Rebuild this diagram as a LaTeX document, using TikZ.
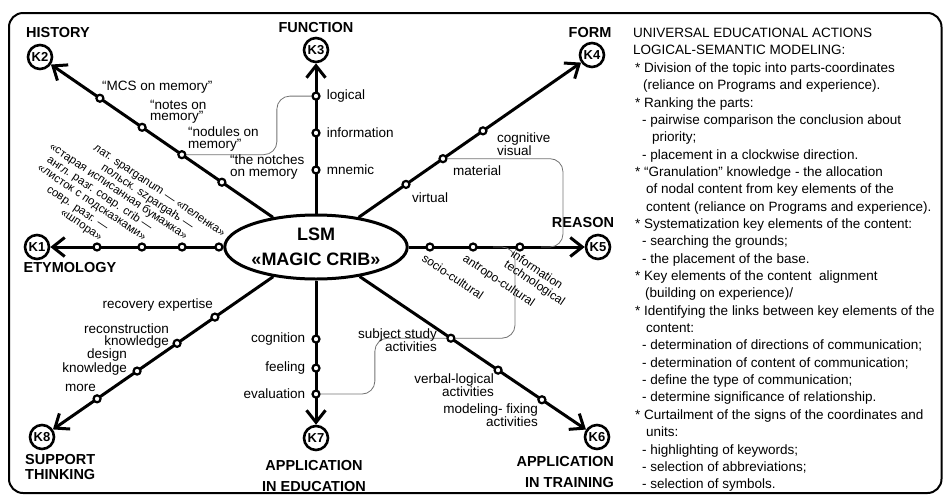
\documentclass[tikz,border=0pt]{standalone}
\usepackage{fontspec}
\setmainfont{Liberation Sans}
\usetikzlibrary{shapes,arrows.meta,positioning,calc}

\begin{document}
\begin{tikzpicture}[x=1pt, y=-1pt, >={Straight Barb[length=12pt,width=19pt]},
    key/.style={circle, draw, line width=2.6pt, minimum size=24pt, inner sep=0pt,
                font=\fontsize{13}{13}\selectfont\bfseries},
    dot/.style={circle, draw, fill=white, line width=2.2pt, minimum size=7pt, inner sep=0pt},
    axis/.style={->, line width=3pt},
    link/.style={draw=black!55, line width=0.8pt, rounded corners=13pt},
    lbl/.style={font=\fontsize{13.5}{11.5}\selectfont, inner sep=1pt},
    rlbl/.style={font=\fontsize{12}{12}\selectfont, inner sep=0pt, rotate=-34},
    ru/.style={font=\fontsize{11.5}{11.5}\selectfont, inner sep=0pt, rotate=-34, align=right},
    title/.style={font=\fontsize{14.5}{21}\selectfont\bfseries, inner sep=0pt}]
\useasboundingbox (0,0) rectangle (943,496);
\draw[line width=2pt, rounded corners=14pt] (9,13) rectangle (941.5,493);

\node [ellipse, draw, line width=3pt, minimum width=168pt, minimum height=64pt, inner sep=0pt,
       align=center, font=\fontsize{18}{25}\selectfont\bfseries] (c) at (316,247) {LSM\\«MAGIC CRIB»};

\node [key] (k1) at (37,247) {K1};
\node [key] (k2) at (40,57) {K2};
\node [key] (k3) at (316,50) {K3};
\node [key] (k4) at (592,55) {K4};
\node [key] (k5) at (598,247) {K5};
\node [key] (k6) at (597,437) {K6};
\node [key] (k7) at (316,438) {K7};
\node [key] (k8) at (42,437) {K8};

\node [title] (t1) at (70,268) {ETYMOLOGY};
\node [title] (t2) at (58,33) {HISTORY};
\node [title] (t3) at (316,28) {FUNCTION};
\node [title] (t4) at (590,33) {FORM};
\node [title] (t5) at (583,223) {REASON};
\node [title, align=right, anchor=north east] (t6) at (614,456) {APPLICATION\\IN TRAINING};
\node [title, align=center, anchor=north] (t7) at (314,460) {APPLICATION\\IN EDUCATION};
\node [title, align=left, anchor=north west, font=\fontsize{14.5}{15.5}\selectfont\bfseries] (t8) at (25,454) {SUPPORT\\THINKING};

\foreach \k in {1,...,8}
  \draw[axis] (c) -- (k\k);

% nodal points
\node [dot] (d11) at ($(c)!0.785!(k1)$) {};
\node [dot] (d12) at ($(c)!0.624!(k1)$) {};
\node [dot] (d13) at ($(c)!0.480!(k1)$) {};
\node [dot] (d14) at ($(c)!0.348!(k1)$) {};
\node [dot] (d21) at ($(c)!0.783!(k2)$) {};
\node [dot] (d22) at ($(c)!0.630!(k2)$) {};
\node [dot] (d23) at ($(c)!0.486!(k2)$) {};
\node [dot] (d24) at ($(c)!0.341!(k2)$) {};
\node [dot] (d31) at ($(c)!0.391!(k3)$) {};
\node [dot] (d32) at ($(c)!0.579!(k3)$) {};
\node [dot] (d33) at ($(c)!0.766!(k3)$) {};
\node [dot] (d41) at ($(c)!0.326!(k4)$) {};
\node [dot] (d42) at ($(c)!0.460!(k4)$) {};
\node [dot] (d43) at ($(c)!0.605!(k4)$) {};
\node [dot] (d51) at ($(c)!0.404!(k5)$) {};
\node [dot] (d52) at ($(c)!0.557!(k5)$) {};
\node [dot] (d53) at ($(c)!0.723!(k5)$) {};
\node [dot] (d61) at ($(c)!0.480!(k6)$) {};
\node [dot] (d62) at ($(c)!0.648!(k6)$) {};
\node [dot] (d63) at ($(c)!0.804!(k6)$) {};
\node [dot] (d71) at ($(c)!0.482!(k7)$) {};
\node [dot] (d72) at ($(c)!0.634!(k7)$) {};
\node [dot] (d73) at ($(c)!0.770!(k7)$) {};
\node [dot] (d81) at ($(c)!0.369!(k8)$) {};
\node [dot] (d82) at ($(c)!0.507!(k8)$) {};
\node [dot] (d83) at ($(c)!0.653!(k8)$) {};
\node [dot] (d84) at ($(c)!0.799!(k8)$) {};

% links between points
\coordinate (m5) at (541,247);
\coordinate (m3) at (493,247);
\draw[link] (d23) -- ++(95,0) |- (d33);
\draw[link] (d42) -- ++(120,0) |- (m5);
\draw[link] (m3) -- ++(22,0) |- (d61);
\draw[link] (d61) -- ++(-76,0) |- (d73);

\node [ru, anchor=south east] (e1) at ($(d11)+(1,-4)$) {совр. разг. —\\«шпора»};
\node [ru, anchor=south east] (e2) at ($(d12)+(0,-4)$) {англ. разг. совр. crib —\\«листок с подсказками»};
\node [ru, anchor=south east] (e3) at ($(d13)+(1,-5)$) {польск. szpargałъ —\\«старая исписанная бумажка»};
\node [ru, anchor=south east] (e4) at ($(d14)+(2,-8)$) {лат. sparganum — «пеленка»};

\node [lbl, anchor=west] (a21) at (101,87) {“MCS on memory”};
\node [lbl, anchor=west, align=left] (a22) at (149,112) {“notes on\\memory”};
\node [lbl, anchor=west, align=left] (a23) at (187,139) {“nodules on\\memory”};
\node [lbl, anchor=west, align=left] (a24) at (229,167) {“the notches\\on memory};

\node [lbl, right=5pt of d33] (a33) {logical};
\node [lbl, right=5pt of d32] (a32) {information};
\node [lbl, right=5pt of d31] (a31) {mnemic};

\node [lbl, anchor=west, align=left] (a43) at (496,144) {cognitive\\visual};
\node [lbl, anchor=west] (a42) at (452,171) {material};
\node [lbl, anchor=west] (a41) at (411,198) {virtual};

\node [rlbl, anchor=north west] (r1) at (426,253) {socio-cultural};
\node [rlbl, anchor=north west] (r2) at (467,253) {antropo-cultural};
\node [rlbl, anchor=north west, align=left] (r3) at (515,249) {information\\technological};

\node [lbl, anchor=east, align=right] (a61) at (438,340) {subject study\\activities};
\node [lbl, anchor=east, align=right] (a62) at (495,385) {verbal-logical\\activities};
\node [lbl, anchor=east, align=right] (a63) at (539,415) {modeling- fixing\\activities};

\node [lbl, left=5pt of d71] (a71) {cognition};
\node [lbl, left=5pt of d72] (a72) {feeling};
\node [lbl, left=5pt of d73] (a73) {evaluation};

\node [lbl, anchor=east] (a81) at (214,305) {recovery expertise};
\node [lbl, anchor=east, align=right] (a82) at (170,336) {reconstruction\\knowledge};
\node [lbl, anchor=east, align=right] (a83) at (128,362) {design\\knowledge};
\node [lbl, anchor=east] (a84) at (97,388) {more};

\node [anchor=north west, align=left, inner sep=0pt, font=\fontsize{13.5}{17.35}\selectfont] (uea) at (633,28)
 {UNIVERSAL EDUCATIONAL ACTIONS\\
  LOGICAL-SEMANTIC MODELING:\\
  \hspace*{2pt}* Division of the topic into parts-coordinates\\
  \hspace*{10pt}(reliance on Programs and experience).\\
  \hspace*{2pt}* Ranking the parts:\\
  \hspace*{9pt}- pairwise comparison the conclusion about\\
  \hspace*{19pt}priority;\\
  \hspace*{9pt}- placement in a clockwise direction.\\
  \hspace*{2pt}* “Granulation” knowledge - the allocation\\
  \hspace*{13pt}of nodal content from key elements of the\\
  \hspace*{13pt}content (reliance on Programs and experience).\\
  \hspace*{2pt}* Systematization key elements of the content:\\
  \hspace*{9pt}- searching the grounds;\\
  \hspace*{9pt}- the placement of the base.\\
  \hspace*{2pt}* Key elements of the content\ \ alignment\\
  \hspace*{12pt}(building on experience)/\\
  \hspace*{2pt}* Identifying the links between key elements of the\\
  \hspace*{13pt}content:\\
  \hspace*{9pt}- determination of directions of communication;\\
  \hspace*{9pt}- determination of content of communication;\\
  \hspace*{9pt}- define the type of communication;\\
  \hspace*{9pt}- determine significance of relationship.\\
  \hspace*{2pt}* Curtailment of the signs of the coordinates and\\
  \hspace*{13pt}units:\\
  \hspace*{9pt}- highlighting of keywords;\\
  \hspace*{9pt}- selection of abbreviations;\\
  \hspace*{9pt}- selection of symbols.};
\end{tikzpicture}
\end{document}
